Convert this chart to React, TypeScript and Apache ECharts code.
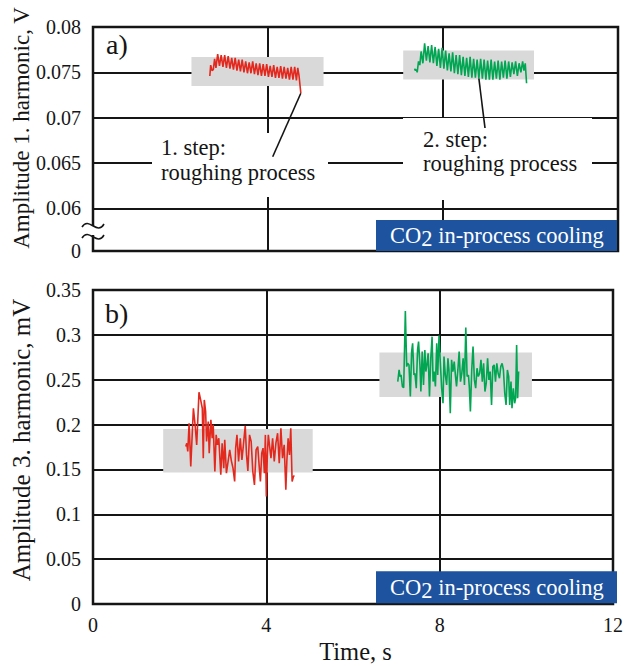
import React, { useEffect, useRef } from "react";
import * as echarts from "echarts";

// ---- Amplitude of the 1st harmonic (V), step 1 and step 2 of the roughing process ----
const h1Step1Time = [
  2.67, 2.69, 2.72, 2.75, 2.78, 2.81, 2.85, 2.89, 2.93, 2.97, 3.01, 3.05, 3.09, 3.13,
  3.17, 3.21, 3.25, 3.29, 3.33, 3.37, 3.41, 3.45, 3.49, 3.53, 3.57, 3.61, 3.65, 3.69,
  3.73, 3.77, 3.81, 3.85, 3.89, 3.93, 3.97, 4.01, 4.05, 4.09, 4.13, 4.17, 4.21, 4.25,
  4.29, 4.33, 4.37, 4.41, 4.45, 4.49, 4.53, 4.57, 4.61, 4.65, 4.68, 4.71, 4.75,
];
const h1Step1Amp = [
  0.0746, 0.0758, 0.0752, 0.0753, 0.0765, 0.0755, 0.077, 0.0757, 0.0769, 0.0756, 0.0769,
  0.0755, 0.0768, 0.0754, 0.0766, 0.0753, 0.0766, 0.0752, 0.0764, 0.0751, 0.0764, 0.075,
  0.0762, 0.0749, 0.0761, 0.0749, 0.0762, 0.0748, 0.076, 0.0747, 0.076, 0.0746, 0.0759,
  0.0746, 0.0759, 0.0745, 0.0757, 0.0745, 0.0758, 0.0744, 0.0756, 0.0744, 0.0757, 0.0743,
  0.0756, 0.0743, 0.0755, 0.0742, 0.0756, 0.0742, 0.0756, 0.0741, 0.0755, 0.0746, 0.0727,
];
const h1Step2Time = [
  7.35, 7.37, 7.39, 7.41, 7.44, 7.47, 7.5, 7.54, 7.58, 7.62, 7.66, 7.7, 7.74, 7.78, 7.82,
  7.86, 7.9, 7.94, 7.98, 8.02, 8.06, 8.1, 8.14, 8.18, 8.22, 8.26, 8.3, 8.34, 8.38, 8.42,
  8.46, 8.5, 8.54, 8.58, 8.62, 8.66, 8.7, 8.74, 8.78, 8.82, 8.86, 8.9, 8.94, 8.98, 9.02,
  9.06, 9.1, 9.14, 9.18, 9.22, 9.26, 9.3, 9.34, 9.38, 9.42, 9.46, 9.5, 9.54, 9.58, 9.62,
  9.66, 9.7, 9.74, 9.78, 9.82, 9.85, 9.88, 9.91,
];
const h1Step2Amp = [
  0.0754, 0.0752, 0.0753, 0.075, 0.0762, 0.0758, 0.0773, 0.076, 0.0782, 0.0763, 0.0779,
  0.0761, 0.078, 0.076, 0.0778, 0.0757, 0.0776, 0.0755, 0.0777, 0.0754, 0.0774, 0.0752,
  0.0771, 0.0751, 0.0772, 0.0749, 0.0769, 0.0748, 0.0769, 0.0747, 0.0767, 0.0746, 0.0766,
  0.0745, 0.0767, 0.0744, 0.0765, 0.0744, 0.0764, 0.0743, 0.0765, 0.0743, 0.0764, 0.0742,
  0.0763, 0.0742, 0.0764, 0.0742, 0.0762, 0.0743, 0.0763, 0.0742, 0.0762, 0.0744, 0.0763,
  0.0743, 0.0762, 0.0745, 0.0761, 0.0748, 0.0762, 0.0746, 0.076, 0.075, 0.0762, 0.0752,
  0.076, 0.0738,
];

// ---- Amplitude of the 3rd harmonic (mV) ----
const h3Step1Time = [
  2.141, 2.164, 2.187, 2.218, 2.256, 2.317, 2.355, 2.393, 2.446, 2.484, 2.522, 2.545, 2.568,
  2.599, 2.621, 2.66, 2.682, 2.72, 2.751, 2.774, 2.812, 2.842, 2.873, 2.903, 2.949, 2.98,
  3.018, 3.04, 3.079, 3.117, 3.155, 3.193, 3.231, 3.269, 3.292, 3.322, 3.36, 3.399, 3.437,
  3.467, 3.513, 3.543, 3.574, 3.612, 3.65, 3.688, 3.726, 3.764, 3.802, 3.833, 3.863, 3.894,
  3.924, 3.955, 3.978, 4.0, 4.023, 4.046, 4.077, 4.107, 4.145, 4.183, 4.221, 4.26, 4.298,
  4.336, 4.374, 4.412, 4.45, 4.473, 4.503, 4.534, 4.564, 4.595, 4.625, 4.648,
];
const h3Step1Amp = [
  0.1755, 0.1792, 0.17, 0.2015, 0.1533, 0.2182, 0.2003, 0.1774, 0.236, 0.2275, 0.2182,
  0.1625, 0.2275, 0.2145, 0.1811, 0.2034, 0.1681, 0.2052, 0.1848, 0.1997, 0.1477, 0.1885,
  0.1774, 0.1848, 0.144, 0.1792, 0.1514, 0.183, 0.1458, 0.1588, 0.1718, 0.1596, 0.1514,
  0.1366, 0.1737, 0.1885, 0.1588, 0.1848, 0.1607, 0.1755, 0.1985, 0.1662, 0.1484, 0.1885,
  0.1811, 0.1477, 0.1328, 0.1718, 0.1755, 0.1551, 0.1366, 0.1681, 0.1737, 0.1458, 0.1885,
  0.1199, 0.1662, 0.1885, 0.1755, 0.1625, 0.1848, 0.1588, 0.1792, 0.1904, 0.157, 0.1959,
  0.1625, 0.1774, 0.1273, 0.1588, 0.1848, 0.1662, 0.1959, 0.1366, 0.1421, 0.1432,
];
const h3Step2Time = [
  7.033, 7.064, 7.086, 7.109, 7.14, 7.17, 7.208, 7.239, 7.262, 7.292, 7.323, 7.353, 7.376,
  7.406, 7.429, 7.46, 7.49, 7.513, 7.544, 7.566, 7.597, 7.627, 7.658, 7.681, 7.711, 7.734,
  7.765, 7.795, 7.825, 7.848, 7.871, 7.902, 7.932, 7.955, 7.986, 8.016, 8.046, 8.077, 8.1,
  8.13, 8.161, 8.191, 8.214, 8.245, 8.275, 8.305, 8.336, 8.366, 8.389, 8.42, 8.45, 8.481,
  8.511, 8.542, 8.572, 8.603, 8.633, 8.664, 8.686, 8.709, 8.74, 8.77, 8.801, 8.831, 8.862,
  8.892, 8.923, 8.953, 8.984, 9.014, 9.045, 9.075, 9.106, 9.136, 9.166, 9.197, 9.227, 9.258,
  9.288, 9.319, 9.349, 9.38, 9.41, 9.441, 9.471, 9.502, 9.532, 9.563, 9.593, 9.616, 9.646,
  9.669, 9.7, 9.73, 9.753, 9.776, 9.799, 9.822,
];
const h3Step2Amp = [
  0.2479, 0.2609, 0.2535, 0.2553, 0.2424, 0.2412, 0.3266, 0.2646, 0.2683, 0.2665, 0.2312,
  0.2813, 0.2906, 0.2553, 0.2572, 0.2405, 0.2832, 0.2925, 0.2665, 0.2368, 0.2813, 0.2442,
  0.2832, 0.2591, 0.2683, 0.2795, 0.2312, 0.2739, 0.298, 0.2479, 0.2591, 0.2424, 0.2906,
  0.2553, 0.2992, 0.2683, 0.2405, 0.2238, 0.2758, 0.2553, 0.2442, 0.2739, 0.2609, 0.2127,
  0.2721, 0.2591, 0.2702, 0.2535, 0.2424, 0.2609, 0.2813, 0.2479, 0.2572, 0.2739, 0.2442,
  0.3081, 0.2535, 0.2553, 0.2405, 0.2145, 0.2609, 0.2869, 0.2498, 0.2405, 0.2628, 0.2535,
  0.2572, 0.2721, 0.2479, 0.2683, 0.2368, 0.2461, 0.2739, 0.2498, 0.2591, 0.2219, 0.2646,
  0.2665, 0.2479, 0.2683, 0.2572, 0.2516, 0.2646, 0.2683, 0.2609, 0.2349, 0.2219, 0.2609,
  0.2535, 0.2219, 0.2479, 0.2182, 0.2405, 0.2238, 0.2294, 0.2888, 0.2294, 0.2591,
];

// Grey tolerance bands: [t start, t end, lower, upper]
const h1Bands = [
  [2.25, 5.27, 0.0735, 0.0767],
  [7.09, 10.08, 0.0742, 0.0774],
];
const h3Bands = [
  [1.62, 5.07, 0.1465, 0.1952],
  [6.61, 10.13, 0.2308, 0.2802],
];

// Axis ticks; the 1st-harmonic axis is broken, its floor is labelled "0"
const timeTicks = [0, 4, 8, 12];
const h1AxisFloor = 0.0553;
const h1Ticks = [h1AxisFloor, 0.06, 0.065, 0.07, 0.075, 0.08];
const h3Ticks = [0, 0.05, 0.1, 0.15, 0.2, 0.25, 0.3, 0.35];

const FONT = "Liberation Serif, Times New Roman, serif";
const INK = "#151515";
const RED = "#e3281e";
const GREEN = "#00a651";
const BAND = "#d9d9d9";
const BLUE = "#1d539f";

const GRID_LEFT = 93;
const GRID_WIDTH = 525;
const TOP_GRID = { top: 27, height: 224 };
const BOT_GRID = { top: 290, height: 314 };

const pairs = (t: number[], v: number[]) => t.map((x, i) => [x, v[i]]);
const bandArea = (b: number[]) => ({
  silent: true,
  itemStyle: { color: BAND, opacity: 1 },
  label: { show: false },
  data: [[{ xAxis: b[0], yAxis: b[2] }, { xAxis: b[1], yAxis: b[3] }]],
});

const trace = (
  name: string,
  t: number[],
  v: number[],
  color: string,
  axis: number,
  band: number[]
) => ({
  name,
  type: "line",
  xAxisIndex: axis,
  yAxisIndex: axis,
  data: pairs(t, v),
  showSymbol: false,
  symbol: "none",
  lineStyle: { color, width: 1.6 },
  itemStyle: { color },
  markArea: bandArea(band),
  z: 3,
});

const gridLine = { show: true, lineStyle: { color: INK, width: 2 } };
const tickLabel = { fontSize: 20, color: INK, fontFamily: FONT, margin: 12 };

function buildOption() {
  return {
    animation: false,
    textStyle: { fontFamily: FONT },
    grid: [
      {
        left: GRID_LEFT, width: GRID_WIDTH, ...TOP_GRID,
        show: true, borderColor: INK, borderWidth: 2.5, backgroundColor: "transparent",
      },
      {
        left: GRID_LEFT, width: GRID_WIDTH, ...BOT_GRID,
        show: true, borderColor: INK, borderWidth: 2.5, backgroundColor: "transparent",
      },
    ],
    xAxis: [
      {
        gridIndex: 0, type: "value", min: timeTicks[0], max: timeTicks[timeTicks.length - 1],
        interval: 4, axisLabel: { show: false }, axisLine: { show: false },
        axisTick: { show: false }, splitLine: gridLine,
      },
      {
        gridIndex: 1, type: "value", min: timeTicks[0], max: timeTicks[timeTicks.length - 1],
        interval: 4, axisLabel: { ...tickLabel, margin: 11 }, axisLine: { show: false },
        axisTick: { show: false }, splitLine: gridLine,
      },
    ],
    yAxis: [
      {
        gridIndex: 0, type: "value", min: h1AxisFloor, max: 0.08,
        axisLine: { show: false },
        axisTick: { show: false, customValues: h1Ticks },
        axisLabel: {
          ...tickLabel,
          customValues: h1Ticks,
          formatter: (v: number) => (v < 0.058 ? "0" : String(+v.toFixed(4))),
        },
        splitLine: gridLine,
      },
      {
        gridIndex: 1, type: "value", min: h3Ticks[0], max: h3Ticks[h3Ticks.length - 1],
        interval: 0.05, axisLine: { show: false }, axisTick: { show: false },
        axisLabel: { ...tickLabel, formatter: (v: number) => String(+v.toFixed(3)) },
        splitLine: gridLine,
      },
    ],
    series: [
      trace("1. step, 1st harmonic", h1Step1Time, h1Step1Amp, RED, 0, h1Bands[0]),
      trace("2. step, 1st harmonic", h1Step2Time, h1Step2Amp, GREEN, 0, h1Bands[1]),
      trace("1. step, 3rd harmonic", h3Step1Time, h3Step1Amp, RED, 1, h3Bands[0]),
      trace("2. step, 3rd harmonic", h3Step2Time, h3Step2Amp, GREEN, 1, h3Bands[1]),
    ],
  };
}

const txt = (
  x: number, y: number, text: string, size: number,
  extra: Record<string, any> = {}, z = 6
) => ({
  type: "text", x, y, z, silent: true,
  ...extra,
  style: {
    text, fontSize: size, fontFamily: FONT, fill: INK,
    align: "left", verticalAlign: "middle", textAlign: "left", textVerticalAlign: "middle",
    ...(extra.style || {}),
  },
});

function coolingTag(right: number, bottom: number, h: number) {
  const w = 241;
  const x = right - w;
  const y = bottom - h;
  return [
    { type: "rect", z: 5, silent: true, shape: { x, y, width: w, height: h }, style: { fill: BLUE } },
    {
      type: "text", z: 6, silent: true, x: x + 14, y: y + h / 2,
      style: {
        text: "{n|CO}{s|2}{n| in-process cooling}",
        align: "left", verticalAlign: "middle", textAlign: "left", textVerticalAlign: "middle",
        rich: {
          n: { fontSize: 22.5, fontFamily: FONT, fill: "#ffffff", color: "#ffffff" },
          s: { fontSize: 22.5, fontFamily: FONT, fill: "#ffffff", color: "#ffffff", padding: [6, 0, 0, 0] },
        },
      },
    },
  ];
}

function buildGraphics(chart: echarts.ECharts) {
  const right = GRID_LEFT + GRID_WIDTH;
  const topBottom = TOP_GRID.top + TOP_GRID.height;
  const botBottom = BOT_GRID.top + BOT_GRID.height;

  // Leader lines start where the traces are
  const end1 = chart.convertToPixel({ gridIndex: 0 }, [
    h1Step1Time[h1Step1Time.length - 1],
    h1Step1Amp[h1Step1Amp.length - 1],
  ]) as number[];
  const i2 = h1Step2Time.indexOf(8.82);
  const end2 = chart.convertToPixel({ gridIndex: 0 }, [h1Step2Time[i2], h1Step2Amp[i2]]) as number[];

  const lineStyle = { stroke: INK, lineWidth: 1.6, fill: "none" };
  const breakY = 224;

  return [
    // panel tags
    txt(106, 44, "a)", 28),
    txt(105, 313, "b)", 28),
    // axis titles
    txt(21, 128, "Amplitude 1. harmonic, V", 23, {
      rotation: Math.PI / 2,
      style: { align: "center", textAlign: "center" },
    }),
    txt(21, 440, "Amplitude 3. harmonic, mV", 25, {
      rotation: Math.PI / 2,
      style: { align: "center", textAlign: "center" },
    }),
    txt(GRID_LEFT + GRID_WIDTH / 2, 651, "Time, s", 24.5, {
      style: { align: "center", textAlign: "center" },
    }),
    // step annotations
    { type: "rect", z: 5, silent: true, shape: { x: 152, y: 133, width: 176, height: 64 }, style: { fill: "#ffffff" } },
    txt(161, 159.5, "1. step:\nroughing process", 22.5, { style: { lineHeight: 25 } }),
    { type: "line", z: 6, silent: true, shape: { x1: end1[0], y1: end1[1], x2: 272.7, y2: 156.7 }, style: lineStyle },
    { type: "rect", z: 5, silent: true, shape: { x: 403, y: 118, width: 189, height: 82 }, style: { fill: "#ffffff" } },
    txt(423, 151, "2. step:\nroughing process", 22.5, { style: { lineHeight: 24 } }),
    { type: "line", z: 6, silent: true, shape: { x1: end2[0], y1: end2[1], x2: 485, y2: 128 }, style: lineStyle },
    // axis break mark
    { type: "rect", z: 5, silent: true, shape: { x: 88, y: breakY + 2, width: 10, height: 9 }, style: { fill: "#ffffff" } },
    {
      type: "bezierCurve", z: 6, silent: true,
      shape: { x1: 82, y1: breakY + 3, cpx1: 89, cpy1: breakY - 8, cpx2: 97, cpy2: breakY + 12, x2: 104, y2: breakY },
      style: lineStyle,
    },
    {
      type: "bezierCurve", z: 6, silent: true,
      shape: { x1: 82, y1: breakY + 14, cpx1: 89, cpy1: breakY + 3, cpx2: 97, cpy2: breakY + 23, x2: 104, y2: breakY + 11 },
      style: lineStyle,
    },
    // cooling tags
    ...coolingTag(right - 1, topBottom, 31),
    ...coolingTag(right - 1, botBottom - 0.7, 32),
  ];
}

export default function App() {
  const ref = useRef<HTMLDivElement>(null);
  useEffect(() => {
    const el = ref.current;
    if (!el) return;
    const chart = echarts.init(el, undefined, { renderer: "svg" });
    chart.setOption(buildOption() as any);
    chart.setOption({ graphic: buildGraphics(chart) } as any);
    return () => chart.dispose();
  }, []);
  return (
    <div
      ref={ref}
      style={{ position: "fixed", left: 0, top: 0, width: 626, height: 667, background: "#fff" }}
    />
  );
}
